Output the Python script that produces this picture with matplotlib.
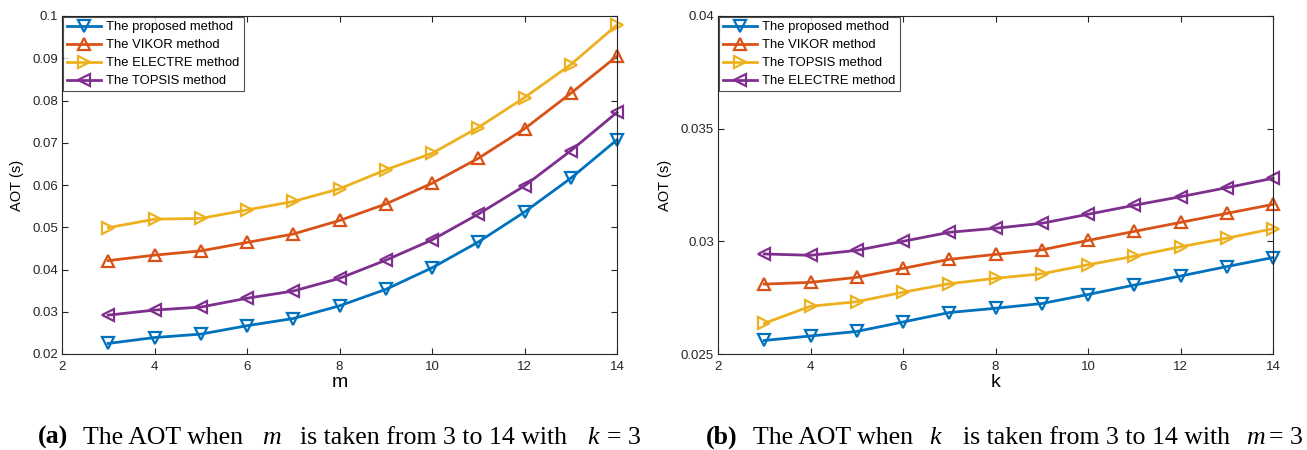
import matplotlib
matplotlib.use("Agg")
import matplotlib.pyplot as plt
from matplotlib.ticker import FuncFormatter

# ---- data ----
x_vals = [3, 4, 5, 6, 7, 8, 9, 10, 11, 12, 13, 14]

# (a) AOT vs m (k = 3)
a_proposed = [0.0225, 0.0239, 0.0247, 0.0267, 0.0284, 0.0314, 0.0353, 0.0404, 0.0465, 0.0536, 0.0616, 0.0707]
a_vikor    = [0.0421, 0.0434, 0.0444, 0.0464, 0.0484, 0.0516, 0.0555, 0.0604, 0.0663, 0.0733, 0.0817, 0.0905]
a_electre  = [0.0499, 0.0519, 0.0521, 0.0541, 0.0561, 0.0591, 0.0636, 0.0675, 0.0736, 0.0807, 0.0885, 0.0979]
a_topsis   = [0.0292, 0.0304, 0.0311, 0.0332, 0.0349, 0.0379, 0.0422, 0.0470, 0.0531, 0.0598, 0.0681, 0.0772]

# (b) AOT vs k (m = 3)
b_proposed = [0.02560, 0.02580, 0.02600, 0.02642, 0.02684, 0.02703, 0.02724, 0.02764, 0.02806, 0.02846, 0.02888, 0.02928]
b_vikor    = [0.02810, 0.02818, 0.02840, 0.02880, 0.02920, 0.02942, 0.02962, 0.03004, 0.03044, 0.03084, 0.03124, 0.03164]
b_topsis   = [0.02636, 0.02712, 0.02732, 0.02774, 0.02812, 0.02836, 0.02856, 0.02896, 0.02934, 0.02976, 0.03014, 0.03056]
b_electre  = [0.02944, 0.02938, 0.02960, 0.03000, 0.03040, 0.03058, 0.03080, 0.03120, 0.03160, 0.03198, 0.03238, 0.03280]

labels_a = ["The proposed method", "The VIKOR method", "The ELECTRE method", "The TOPSIS method"]
labels_b = ["The proposed method", "The VIKOR method", "The TOPSIS method", "The ELECTRE method"]

xticks = [2, 4, 6, 8, 10, 12, 14]
yticks_a = [0.02, 0.03, 0.04, 0.05, 0.06, 0.07, 0.08, 0.09, 0.1]
yticks_b = [0.025, 0.03, 0.035, 0.04]

colors = ["#0072BD", "#D95319", "#EDB120", "#7E2F8E"]
markers = ["v", "^", ">", "<"]

plt.rcParams["font.family"] = ["Liberation Sans", "DejaVu Sans"]

W, H = 1307, 450
fig = plt.figure(figsize=(W / 100, H / 100), dpi=100)

def px_axes(l, t, r, b):
    return fig.add_axes([l / W, (H - b) / H, (r - l) / W, (b - t) / H])

def style(ax, xlabel, ylim, yticks):
    ax.set_xlim(2, 14)
    ax.set_ylim(*ylim)
    ax.set_xticks(xticks)
    ax.set_yticks(yticks)
    ax.yaxis.set_major_formatter(FuncFormatter(lambda v, p: "%g" % round(v, 4)))
    ax.tick_params(direction="in", top=True, right=True, labelsize=9.5,
                   length=4, width=0.8, colors="#262626", pad=5)
    ax.tick_params(axis="y", pad=3)
    for s in ax.spines.values():
        s.set_color("#262626")
        s.set_linewidth(0.8)
    ax.set_xlabel(xlabel, fontsize=14, labelpad=1)
    ax.set_ylabel("AOT (s)", fontsize=10.5, labelpad=6)

def draw(ax, series, labels):
    for ys, c, m, lab in zip(series, colors, markers, labels):
        ax.plot(x_vals, ys, color=c, lw=2, marker=m, markersize=9,
                markerfacecolor="none", markeredgecolor=c, markeredgewidth=1.6,
                label=lab, clip_on=False)
    leg = ax.legend(loc="upper left", fontsize=9.4, frameon=True, fancybox=False,
                    borderaxespad=0.1, handlelength=2.6, labelspacing=0.45,
                    borderpad=0.3, handletextpad=0.4)
    leg.get_frame().set_edgecolor("#262626")
    leg.get_frame().set_linewidth(0.8)

ax1 = px_axes(62, 16, 617, 354)
draw(ax1, [a_proposed, a_vikor, a_electre, a_topsis], labels_a)
style(ax1, "m", (0.02, 0.1), yticks_a)

ax2 = px_axes(718, 16, 1273, 354)
draw(ax2, [b_proposed, b_vikor, b_topsis, b_electre], labels_b)
style(ax2, "k", (0.025, 0.04), yticks_b)

serif = ["Liberation Serif", "DejaVu Serif"]
fs = 18.6
base_y = 1 - 444 / H

def ctext(x, s, **kw):
    fig.text(x / W, base_y, s, fontsize=fs, family=serif, va="baseline", **kw)

# caption (a)
ctext(38, "(a)", fontweight="bold")
ctext(83, "The AOT when")
ctext(262, "m", style="italic")
ctext(300, "is taken from 3 to 14 with")
ctext(587, "k", style="italic")
ctext(607, "= 3")

# caption (b)
ctext(706, "(b)", fontweight="bold")
ctext(753, "The AOT when")
ctext(929, "k", style="italic")
ctext(963, "is taken from 3 to 14 with")
ctext(1246, "m", style="italic")
ctext(1269, "= 3")

fig.savefig("out.png", dpi=100, facecolor="white")
